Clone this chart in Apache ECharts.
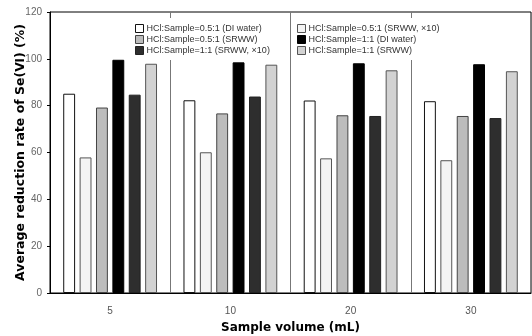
<!DOCTYPE html>
<html>
<head>
<meta charset="utf-8">
<script src="https://cdn.jsdelivr.net/npm/echarts@6/dist/echarts.min.js"></script>
<style>
  html, body { margin: 0; padding: 0; background: #fff; }
  #chart { width: 532px; height: 336px; }
</style>
</head>
<body>
<div id="chart"></div>
<script>
// sample volumes (mL)
const volumes = ['5', '10', '20', '30'];

// average reduction rate of Se(VI), %
const halfDi = [85.1, 82.3, 82.2, 81.9];
const halfSrwwX10 = [57.9, 60.1, 57.5, 56.7];
const halfSrww = [79.2, 76.7, 75.9, 75.6];
const oneDi = [99.6, 98.5, 98.1, 97.7];
const oneSrwwX10 = [84.7, 83.9, 75.6, 74.7];
const oneSrww = [97.9, 97.5, 95.1, 94.7];

const names = [
  'HCl:Sample=0.5:1 (DI water)',
  'HCl:Sample=0.5:1 (SRWW, ×10)',
  'HCl:Sample=0.5:1 (SRWW)',
  'HCl:Sample=1:1 (DI water)',
  'HCl:Sample=1:1 (SRWW, ×10)',
  'HCl:Sample=1:1 (SRWW)'
];
const values = [halfDi, halfSrwwX10, halfSrww, oneDi, oneSrwwX10, oneSrww];
const fills = ['#ffffff', '#f4f4f4', '#bcbcbc', '#000000', '#2e2e2e', '#d2d2d2'];
const borders = ['#111', '#555', '#444', '#000', '#222', '#555'];

const font = 'Arial, "Liberation Sans", sans-serif';
const boldFont = '"DejaVu Sans", Arial, sans-serif';

const chart = echarts.init(document.getElementById('chart'), null, { renderer: 'canvas' });

const legendBase = {
  orient: 'vertical',
  top: 18,
  icon: 'rect',
  itemWidth: 8,
  itemHeight: 8,
  itemGap: 2,
  padding: [6, 4, 5, 3],
  backgroundColor: '#fff',
  itemStyle: { borderWidth: 1 },
  textStyle: { fontFamily: font, fontSize: 9, color: '#333', padding: [0, 0, 0, -2] }
};

chart.setOption({
  animation: false,
  textStyle: { fontFamily: font },
  grid: {
    left: 50,
    right: 1,
    top: 12,
    bottom: 43,
    outerBoundsMode: 'none',
    containLabel: false,
    show: true,
    borderColor: '#000',
    borderWidth: 1
  },
  legend: [
    Object.assign({}, legendBase, { left: 132, data: [names[0], names[2], names[4]] }),
    Object.assign({}, legendBase, { left: 294, data: [names[1], names[3], names[5]] })
  ],
  xAxis: {
    type: 'category',
    data: volumes,
    name: 'Sample volume (mL)',
    nameLocation: 'middle',
    nameGap: 29,
    nameMoveOverlap: false,
    nameTextStyle: { fontFamily: boldFont, fontSize: 12, fontWeight: 'bold', color: '#000' },
    axisLine: { lineStyle: { color: '#000', width: 1 } },
    axisTick: { show: false },
    axisLabel: { color: '#555', fontSize: 10, margin: 13 },
    splitLine: { show: true, lineStyle: { color: '#777', width: 1 } }
  },
  yAxis: {
    type: 'value',
    min: 0,
    max: 120,
    interval: 20,
    name: 'Average reduction rate of Se(Ⅵ) (%)',
    nameLocation: 'middle',
    nameGap: 23,
    nameMoveOverlap: false,
    nameTextStyle: { fontFamily: boldFont, fontSize: 12.5, fontWeight: 'bold', color: '#000' },
    axisLine: { show: true, lineStyle: { color: '#000', width: 1 } },
    axisTick: { show: true, length: 3, lineStyle: { color: '#000' } },
    axisLabel: { color: '#666', fontSize: 10, margin: 8 },
    splitLine: { show: false }
  },
  series: names.map((name, i) => ({
    name: name,
    type: 'bar',
    data: values[i],
    barGap: '38%',
    barCategoryGap: '22%',
    itemStyle: { color: fills[i], borderColor: borders[i], borderWidth: 1 }
  }))
});
</script>
</body>
</html>
